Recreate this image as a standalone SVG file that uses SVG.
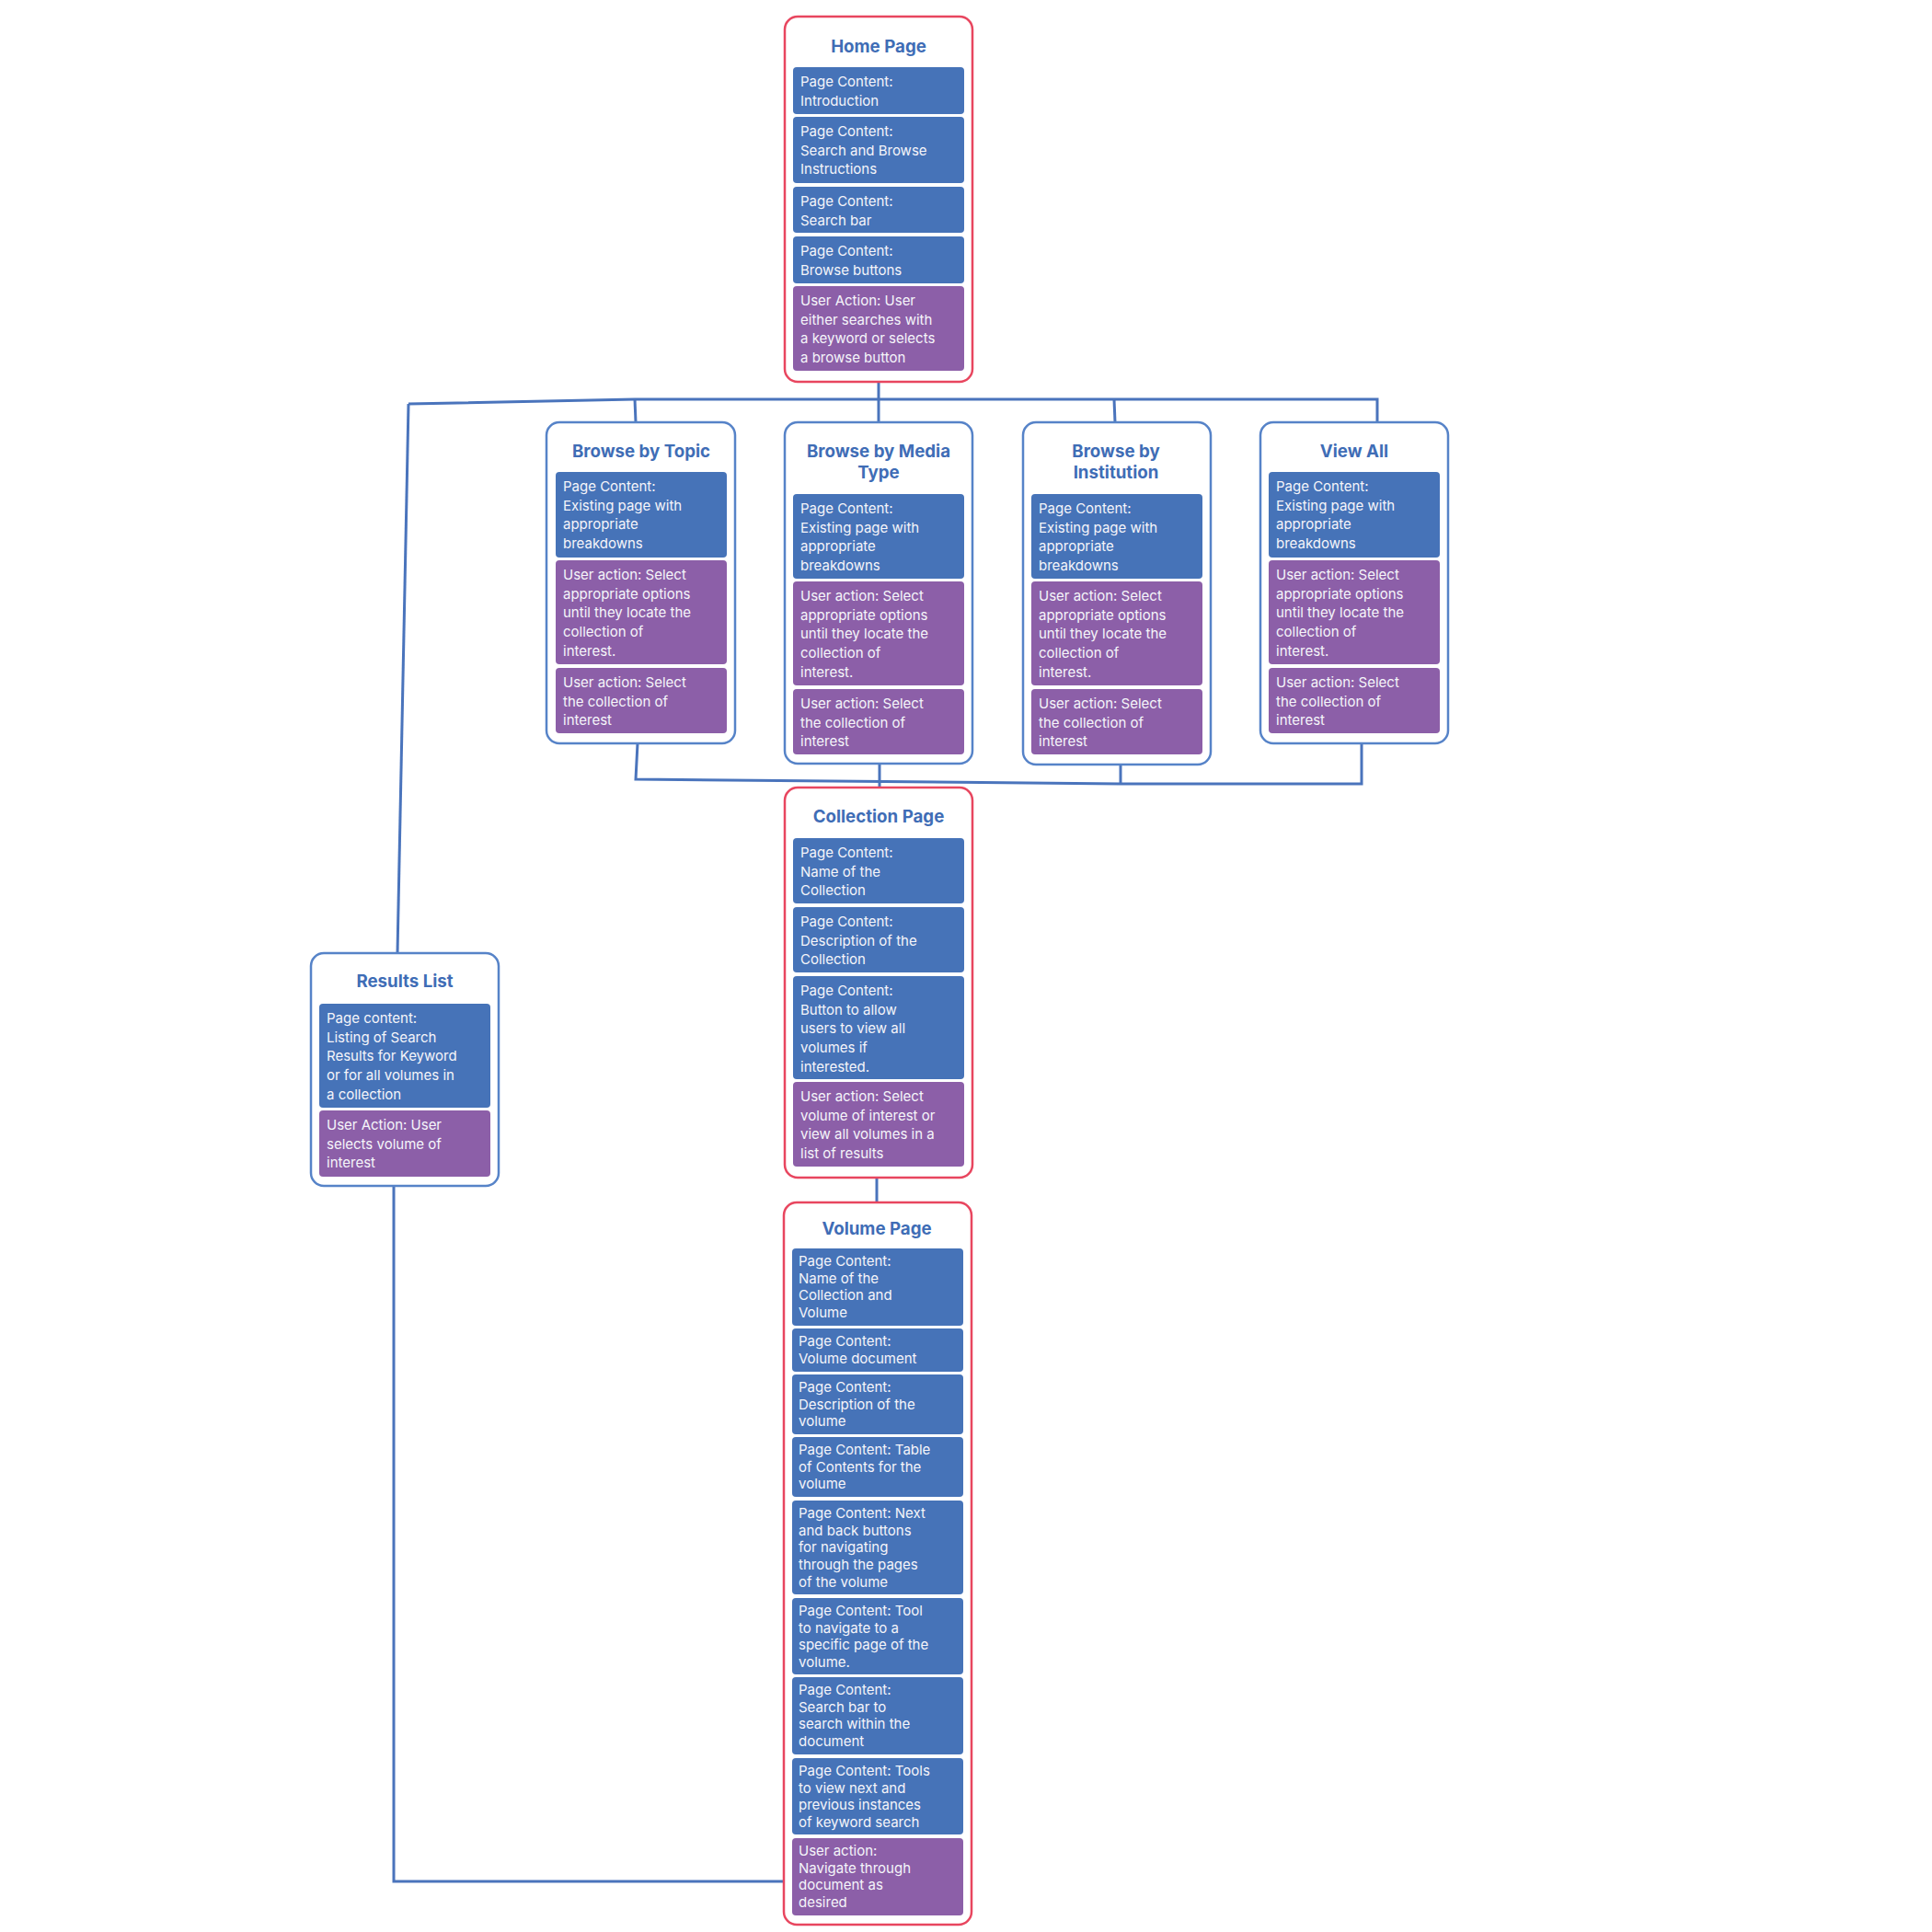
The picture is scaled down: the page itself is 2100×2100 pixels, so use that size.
<svg xmlns="http://www.w3.org/2000/svg" width="2100" height="2100" viewBox="0 0 2100 2100">
<style>
.bg{fill:#ffffff}
.nodeB{fill:#ffffff;stroke:#5683c8;stroke-width:2.5}
.nodeR{fill:#ffffff;stroke:#e8465f;stroke-width:2.5}
.c{fill:#4673b8}
.a{fill:#8c5fa8}
.t{font-family:Inter,"Liberation Sans",sans-serif;font-size:15px;fill:#f5f5fa}
.h{font-family:Inter,"Liberation Sans",sans-serif;font-size:18.7px;font-weight:bold;fill:#3f6db6;text-anchor:middle}
.con{fill:none;stroke:#4a74bc;stroke-width:3}
</style>
<rect class="bg" x="0" y="0" width="2100" height="2100"/>
<g id="connectors">
<polyline class="con" points="444,439 690,434 1497,434 1497,458"/>
<line class="con" x1="690" y1="434" x2="691" y2="459"/>
<line class="con" x1="955" y1="415" x2="955" y2="459"/>
<line class="con" x1="1211" y1="434" x2="1212" y2="459"/>
<polyline class="con" points="444,439 432,1036"/>
<polyline class="con" points="693,808 691,847 1218,852 1480,852 1480,808"/>
<line class="con" x1="956" y1="830" x2="956" y2="856"/>
<line class="con" x1="1218" y1="831" x2="1218" y2="852"/>
<line class="con" x1="953" y1="1280" x2="953" y2="1307"/>
<polyline class="con" points="428,1289 428,2045 852,2045"/>
</g>
<g id="home">
<rect class="nodeR" x="853" y="18" width="204" height="397" rx="14"/>
<text class="h" x="955" y="57">Home Page</text>
<rect class="c" x="862" y="73" width="186" height="51" rx="4"/>
<text class="t" x="870" y="94">Page Content:<tspan x="870" dy="20.7">Introduction</tspan></text>
<rect class="c" x="862" y="127" width="186" height="72" rx="4"/>
<text class="t" x="870" y="148">Page Content:<tspan x="870" dy="20.7">Search and Browse</tspan><tspan x="870" dy="20.7">Instructions</tspan></text>
<rect class="c" x="862" y="203" width="186" height="50" rx="4"/>
<text class="t" x="870" y="224">Page Content:<tspan x="870" dy="20.7">Search bar</tspan></text>
<rect class="c" x="862" y="257" width="186" height="51" rx="4"/>
<text class="t" x="870" y="278">Page Content:<tspan x="870" dy="20.7">Browse buttons</tspan></text>
<rect class="a" x="862" y="311" width="186" height="92" rx="4"/>
<text class="t" x="870" y="332">User Action: User<tspan x="870" dy="20.7">either searches with</tspan><tspan x="870" dy="20.7">a keyword or selects</tspan><tspan x="870" dy="20.7">a browse button</tspan></text>
</g>
<g id="browse-topic">
<rect class="nodeB" x="594" y="459" width="205" height="349" rx="14"/>
<text class="h" x="697" y="497">Browse by Topic</text>
<rect class="c" x="604" y="513" width="186" height="93" rx="4"/>
<text class="t" x="612" y="534">Page Content:<tspan x="612" dy="20.7">Existing page with</tspan><tspan x="612" dy="20.7">appropriate</tspan><tspan x="612" dy="20.7">breakdowns</tspan></text>
<rect class="a" x="604" y="609" width="186" height="113" rx="4"/>
<text class="t" x="612" y="630">User action: Select<tspan x="612" dy="20.7">appropriate options</tspan><tspan x="612" dy="20.7">until they locate the</tspan><tspan x="612" dy="20.7">collection of</tspan><tspan x="612" dy="20.7">interest.</tspan></text>
<rect class="a" x="604" y="726" width="186" height="71" rx="4"/>
<text class="t" x="612" y="747">User action: Select<tspan x="612" dy="20.7">the collection of</tspan><tspan x="612" dy="20.7">interest</tspan></text>
</g>
<g id="browse-media">
<rect class="nodeB" x="853" y="459" width="204" height="371" rx="14"/>
<text class="h" x="955" y="497">Browse by Media<tspan x="955" dy="23">Type</tspan></text>
<rect class="c" x="862" y="537" width="186" height="92" rx="4"/>
<text class="t" x="870" y="558">Page Content:<tspan x="870" dy="20.7">Existing page with</tspan><tspan x="870" dy="20.7">appropriate</tspan><tspan x="870" dy="20.7">breakdowns</tspan></text>
<rect class="a" x="862" y="632" width="186" height="113" rx="4"/>
<text class="t" x="870" y="653">User action: Select<tspan x="870" dy="20.7">appropriate options</tspan><tspan x="870" dy="20.7">until they locate the</tspan><tspan x="870" dy="20.7">collection of</tspan><tspan x="870" dy="20.7">interest.</tspan></text>
<rect class="a" x="862" y="749" width="186" height="71" rx="4"/>
<text class="t" x="870" y="770">User action: Select<tspan x="870" dy="20.7">the collection of</tspan><tspan x="870" dy="20.7">interest</tspan></text>
</g>
<g id="browse-institution">
<rect class="nodeB" x="1112" y="459" width="204" height="372" rx="14"/>
<text class="h" x="1213" y="497">Browse by<tspan x="1213" dy="23">Institution</tspan></text>
<rect class="c" x="1121" y="537" width="186" height="92" rx="4"/>
<text class="t" x="1129" y="558">Page Content:<tspan x="1129" dy="20.7">Existing page with</tspan><tspan x="1129" dy="20.7">appropriate</tspan><tspan x="1129" dy="20.7">breakdowns</tspan></text>
<rect class="a" x="1121" y="632" width="186" height="113" rx="4"/>
<text class="t" x="1129" y="653">User action: Select<tspan x="1129" dy="20.7">appropriate options</tspan><tspan x="1129" dy="20.7">until they locate the</tspan><tspan x="1129" dy="20.7">collection of</tspan><tspan x="1129" dy="20.7">interest.</tspan></text>
<rect class="a" x="1121" y="749" width="186" height="71" rx="4"/>
<text class="t" x="1129" y="770">User action: Select<tspan x="1129" dy="20.7">the collection of</tspan><tspan x="1129" dy="20.7">interest</tspan></text>
</g>
<g id="view-all">
<rect class="nodeB" x="1370" y="459" width="204" height="349" rx="14"/>
<text class="h" x="1472" y="497">View All</text>
<rect class="c" x="1379" y="513" width="186" height="93" rx="4"/>
<text class="t" x="1387" y="534">Page Content:<tspan x="1387" dy="20.7">Existing page with</tspan><tspan x="1387" dy="20.7">appropriate</tspan><tspan x="1387" dy="20.7">breakdowns</tspan></text>
<rect class="a" x="1379" y="609" width="186" height="113" rx="4"/>
<text class="t" x="1387" y="630">User action: Select<tspan x="1387" dy="20.7">appropriate options</tspan><tspan x="1387" dy="20.7">until they locate the</tspan><tspan x="1387" dy="20.7">collection of</tspan><tspan x="1387" dy="20.7">interest.</tspan></text>
<rect class="a" x="1379" y="726" width="186" height="71" rx="4"/>
<text class="t" x="1387" y="747">User action: Select<tspan x="1387" dy="20.7">the collection of</tspan><tspan x="1387" dy="20.7">interest</tspan></text>
</g>
<g id="collection">
<rect class="nodeR" x="853" y="856" width="204" height="424" rx="14"/>
<text class="h" x="955" y="894">Collection Page</text>
<rect class="c" x="862" y="911" width="186" height="71" rx="4"/>
<text class="t" x="870" y="932">Page Content:<tspan x="870" dy="20.7">Name of the</tspan><tspan x="870" dy="20.7">Collection</tspan></text>
<rect class="c" x="862" y="986" width="186" height="71" rx="4"/>
<text class="t" x="870" y="1007">Page Content:<tspan x="870" dy="20.7">Description of the</tspan><tspan x="870" dy="20.7">Collection</tspan></text>
<rect class="c" x="862" y="1061" width="186" height="112" rx="4"/>
<text class="t" x="870" y="1082">Page Content:<tspan x="870" dy="20.7">Button to allow</tspan><tspan x="870" dy="20.7">users to view all</tspan><tspan x="870" dy="20.7">volumes if</tspan><tspan x="870" dy="20.7">interested.</tspan></text>
<rect class="a" x="862" y="1176" width="186" height="92" rx="4"/>
<text class="t" x="870" y="1197">User action: Select<tspan x="870" dy="20.7">volume of interest or</tspan><tspan x="870" dy="20.7">view all volumes in a</tspan><tspan x="870" dy="20.7">list of results</tspan></text>
</g>
<g id="results-list">
<rect class="nodeB" x="338" y="1036" width="204" height="253" rx="14"/>
<text class="h" x="440" y="1073">Results List</text>
<rect class="c" x="347" y="1091" width="186" height="113" rx="4"/>
<text class="t" x="355" y="1112">Page content:<tspan x="355" dy="20.7">Listing of Search</tspan><tspan x="355" dy="20.7">Results for Keyword</tspan><tspan x="355" dy="20.7">or for all volumes in</tspan><tspan x="355" dy="20.7">a collection</tspan></text>
<rect class="a" x="347" y="1207" width="186" height="72" rx="4"/>
<text class="t" x="355" y="1228">User Action: User<tspan x="355" dy="20.7">selects volume of</tspan><tspan x="355" dy="20.7">interest</tspan></text>
</g>
<g id="volume">
<rect class="nodeR" x="852" y="1307" width="204" height="785" rx="14"/>
<text class="h" x="953" y="1342">Volume Page</text>
<rect class="c" x="861" y="1357" width="186" height="84" rx="4"/>
<text class="t" x="868" y="1376">Page Content:<tspan x="868" dy="18.7">Name of the</tspan><tspan x="868" dy="18.7">Collection and</tspan><tspan x="868" dy="18.7">Volume</tspan></text>
<rect class="c" x="861" y="1444" width="186" height="47" rx="4"/>
<text class="t" x="868" y="1463">Page Content:<tspan x="868" dy="18.7">Volume document</tspan></text>
<rect class="c" x="861" y="1494" width="186" height="65" rx="4"/>
<text class="t" x="868" y="1513">Page Content:<tspan x="868" dy="18.7">Description of the</tspan><tspan x="868" dy="18.7">volume</tspan></text>
<rect class="c" x="861" y="1562" width="186" height="65" rx="4"/>
<text class="t" x="868" y="1581">Page Content: Table<tspan x="868" dy="18.7">of Contents for the</tspan><tspan x="868" dy="18.7">volume</tspan></text>
<rect class="c" x="861" y="1631" width="186" height="102" rx="4"/>
<text class="t" x="868" y="1650">Page Content: Next<tspan x="868" dy="18.7">and back buttons</tspan><tspan x="868" dy="18.7">for navigating</tspan><tspan x="868" dy="18.7">through the pages</tspan><tspan x="868" dy="18.7">of the volume</tspan></text>
<rect class="c" x="861" y="1737" width="186" height="83" rx="4"/>
<text class="t" x="868" y="1756">Page Content: Tool<tspan x="868" dy="18.7">to navigate to a</tspan><tspan x="868" dy="18.7">specific page of the</tspan><tspan x="868" dy="18.7">volume.</tspan></text>
<rect class="c" x="861" y="1823" width="186" height="84" rx="4"/>
<text class="t" x="868" y="1842">Page Content:<tspan x="868" dy="18.7">Search bar to</tspan><tspan x="868" dy="18.7">search within the</tspan><tspan x="868" dy="18.7">document</tspan></text>
<rect class="c" x="861" y="1911" width="186" height="83" rx="4"/>
<text class="t" x="868" y="1930">Page Content: Tools<tspan x="868" dy="18.7">to view next and</tspan><tspan x="868" dy="18.7">previous instances</tspan><tspan x="868" dy="18.7">of keyword search</tspan></text>
<rect class="a" x="861" y="1998" width="186" height="84" rx="4"/>
<text class="t" x="868" y="2017">User action:<tspan x="868" dy="18.7">Navigate through</tspan><tspan x="868" dy="18.7">document as</tspan><tspan x="868" dy="18.7">desired</tspan></text>
</g>
</svg>
